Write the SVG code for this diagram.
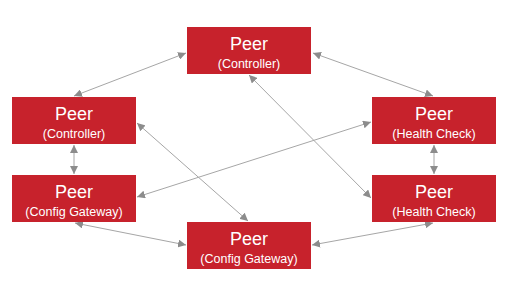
<svg xmlns="http://www.w3.org/2000/svg" width="524" height="302" viewBox="0 0 524 302">
  <style>
    .box { fill: #C7222C; }
    .t1 { font-family: "Liberation Sans", Arial, sans-serif; font-size: 18px; fill: #ffffff; text-anchor: middle; }
    .t2 { font-family: "Liberation Sans", Arial, sans-serif; font-size: 12.5px; fill: #ffffff; text-anchor: middle; }
    .c { stroke: #A6A6A6; stroke-width: 1; fill: none; marker-start: url(#ah); marker-end: url(#ah); }
  </style>
  <defs>
    <marker id="ah" viewBox="0 0 10 10" refX="10" refY="5" markerWidth="8" markerHeight="8" markerUnits="userSpaceOnUse" orient="auto-start-reverse">
      <path d="M0,0 L10,5 L0,10 z" fill="#8C8C8C"/>
    </marker>
  </defs>
  <rect width="524" height="302" fill="#ffffff"/>
  <g id="connectors">
    <line class="c" x1="186" y1="53" x2="74" y2="96"/>
    <line class="c" x1="313" y1="53" x2="433" y2="96"/>
    <line class="c" x1="74" y1="145" x2="74" y2="174"/>
    <line class="c" x1="434" y1="145" x2="434" y2="174"/>
    <line class="c" x1="137" y1="123" x2="248" y2="221"/>
    <line class="c" x1="249" y1="75" x2="371" y2="198"/>
    <line class="c" x1="137" y1="197" x2="371" y2="122"/>
    <line class="c" x1="75" y1="223" x2="186" y2="245"/>
    <line class="c" x1="312" y1="245" x2="433" y2="223"/>
  </g>
  <g id="top-controller">
    <rect class="box" x="187" y="27" width="124" height="47"/>
    <text class="t1" x="249" y="50">Peer</text>
    <text class="t2" x="249" y="68">(Controller)</text>
  </g>
  <g id="left-controller">
    <rect class="box" x="12" y="97" width="124" height="47"/>
    <text class="t1" x="74" y="120">Peer</text>
    <text class="t2" x="74" y="138">(Controller)</text>
  </g>
  <g id="left-config-gateway">
    <rect class="box" x="12" y="175" width="124" height="47"/>
    <text class="t1" x="74" y="198">Peer</text>
    <text class="t2" x="74" y="216">(Config Gateway)</text>
  </g>
  <g id="right-health-check-top">
    <rect class="box" x="372" y="97" width="124" height="47"/>
    <text class="t1" x="434" y="120">Peer</text>
    <text class="t2" x="434" y="138">(Health Check)</text>
  </g>
  <g id="right-health-check-bottom">
    <rect class="box" x="372" y="175" width="124" height="47"/>
    <text class="t1" x="434" y="198">Peer</text>
    <text class="t2" x="434" y="216">(Health Check)</text>
  </g>
  <g id="bottom-config-gateway">
    <rect class="box" x="187" y="222" width="124" height="47"/>
    <text class="t1" x="249" y="245">Peer</text>
    <text class="t2" x="249" y="263">(Config Gateway)</text>
  </g>
</svg>
